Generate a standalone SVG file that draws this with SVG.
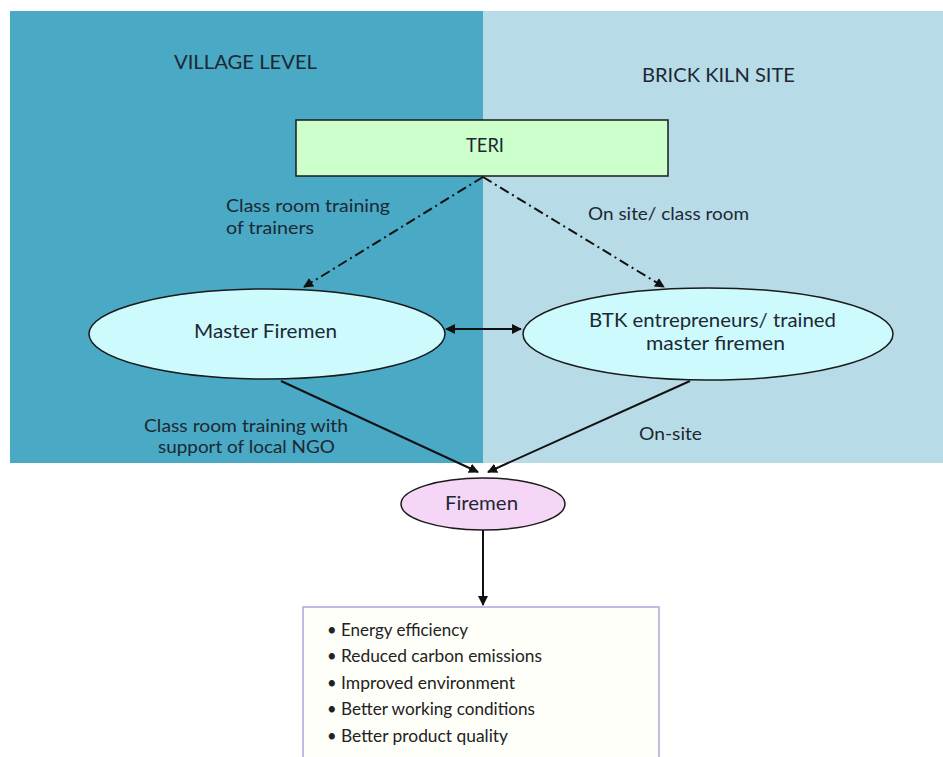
<svg xmlns="http://www.w3.org/2000/svg" width="943" height="757" viewBox="0 0 943 757">
<style>
text{font-family:Lato,"Liberation Sans",sans-serif;fill:#1c2833;}
.hd{font-size:20px;}
.lb{font-size:17px;}
.nd{font-size:19px;}
.bl{font-size:16.5px;fill:#222;}
.node{stroke:#1a1a1a;stroke-width:1.5;}
.dd{stroke:#111;stroke-width:2;fill:none;stroke-dasharray:10 4 2 4;}
.sl{stroke:#111;stroke-width:2;fill:none;}
</style>
<defs>
<marker id="ahs" viewBox="0 0 10 10" refX="9" refY="5" markerWidth="10" markerHeight="10" orient="auto-start-reverse" markerUnits="userSpaceOnUse">
<path d="M0,0 L10,5 L0,10 z" fill="#111"/>
</marker>
</defs>
<rect width="943" height="757" fill="#ffffff"/>
<g id="panels">
<rect x="10" y="11" width="473" height="452" fill="#4aa9c5"/>
<rect x="483" y="11" width="460" height="452" fill="#b8dce7"/>
<text class="hd" x="174" y="69" textLength="143" lengthAdjust="spacingAndGlyphs">VILLAGE LEVEL</text>
<text class="hd" x="642" y="82" textLength="153" lengthAdjust="spacingAndGlyphs">BRICK KILN SITE</text>
</g>
<g id="connectors">
<line class="dd" x1="483" y1="177" x2="304" y2="287" marker-end="url(#ahs)"/>
<line class="dd" x1="483" y1="177" x2="664" y2="287" marker-end="url(#ahs)"/>
<line class="sl" x1="446" y1="329" x2="521" y2="329" marker-start="url(#ahs)" marker-end="url(#ahs)"/>
<line class="sl" x1="281" y1="381" x2="478" y2="472" marker-end="url(#ahs)"/>
<line class="sl" x1="690" y1="381" x2="488" y2="472" marker-end="url(#ahs)"/>
<line class="sl" x1="483" y1="530" x2="483" y2="605" marker-end="url(#ahs)"/>
<text class="lb" x="226" y="212" textLength="164" lengthAdjust="spacingAndGlyphs">Class room training</text>
<text class="lb" x="226" y="234" textLength="88" lengthAdjust="spacingAndGlyphs">of trainers</text>
<text class="lb" x="588" y="220" textLength="161" lengthAdjust="spacingAndGlyphs">On site/ class room</text>
<text class="lb" x="144" y="432" textLength="204" lengthAdjust="spacingAndGlyphs">Class room training with</text>
<text class="lb" x="158" y="453" textLength="177" lengthAdjust="spacingAndGlyphs">support of local NGO</text>
<text class="lb" x="639" y="440" textLength="63" lengthAdjust="spacingAndGlyphs">On-site</text>
</g>
<g id="teri">
<rect class="node" x="296" y="120" width="372" height="56" fill="#ccffcc"/>
<text class="nd" x="466" y="152" textLength="38" lengthAdjust="spacingAndGlyphs">TERI</text>
</g>
<g id="master-firemen">
<ellipse class="node" cx="267" cy="334" rx="178" ry="45" fill="#cdfafc"/>
<text class="nd" x="194" y="338" textLength="143" lengthAdjust="spacingAndGlyphs">Master Firemen</text>
</g>
<g id="btk">
<ellipse class="node" cx="708" cy="334" rx="185" ry="46" fill="#cdfafc"/>
<text class="nd" x="589" y="327" textLength="247" lengthAdjust="spacingAndGlyphs">BTK entrepreneurs/ trained</text>
<text class="nd" x="646" y="350" textLength="139" lengthAdjust="spacingAndGlyphs">master firemen</text>
</g>
<g id="firemen">
<ellipse class="node" cx="483" cy="504" rx="82" ry="26" fill="#f6d6f6"/>
<text class="nd" x="445" y="510" textLength="73" lengthAdjust="spacingAndGlyphs">Firemen</text>
</g>
<g id="outcomes">
<rect x="303" y="607" width="356" height="160" fill="#fffffa" stroke="#a9a9dd" stroke-width="1.5"/>
<text class="bl" x="327" y="636">•</text>
<text class="bl" x="341" y="636" textLength="127" lengthAdjust="spacingAndGlyphs">Energy efficiency</text>
<text class="bl" x="327" y="662">•</text>
<text class="bl" x="341" y="662" textLength="201" lengthAdjust="spacingAndGlyphs">Reduced carbon emissions</text>
<text class="bl" x="327" y="689">•</text>
<text class="bl" x="341" y="689" textLength="174" lengthAdjust="spacingAndGlyphs">Improved environment</text>
<text class="bl" x="327" y="715">•</text>
<text class="bl" x="341" y="715" textLength="194" lengthAdjust="spacingAndGlyphs">Better working conditions</text>
<text class="bl" x="327" y="742">•</text>
<text class="bl" x="341" y="742" textLength="167" lengthAdjust="spacingAndGlyphs">Better product quality</text>
</g>
</svg>
